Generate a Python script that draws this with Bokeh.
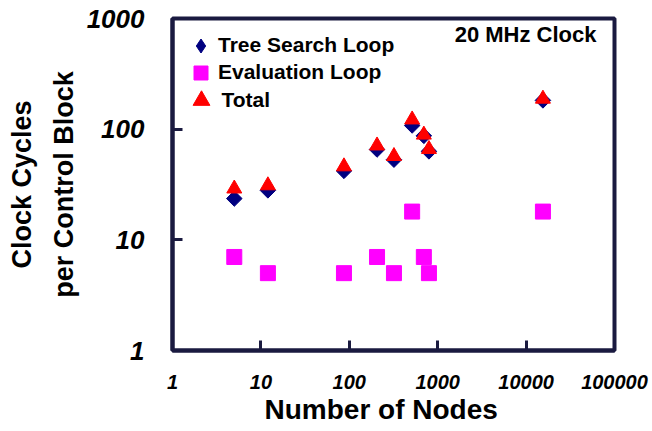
from bokeh.plotting import figure
from bokeh.models import (Legend, LegendItem, Title, Label, FixedTicker,
                          NumeralTickFormatter, ColumnDataSource)
from bokeh.embed import file_html
from bokeh.resources import INLINE
import math

# ---- data ----
nodes = [5, 12, 87, 206, 320, 514, 697, 796, 15500]
tree_search = [23.6, 28, 42, 65.5, 53, 108, 87, 63, 182]
evaluation = [7, 5, 5, 7, 5, 18, 7, 5, 18]
total = [29, 31, 46, 71, 57, 122, 89, 66, 188]

series_names = ["Tree Search Loop", "Evaluation Loop", "Total"]
x_ticks = [1, 10, 100, 1000, 10000, 100000]
y_ticks = [1, 10, 100, 1000]

FONT = "Liberation Sans"
INK = "#1a1a40"   # very dark ink for the frame and ticks

p = figure(width=652, height=431, x_axis_type="log", y_axis_type="log",
           x_range=(x_ticks[0], x_ticks[-1]), y_range=(y_ticks[0], y_ticks[-1]),
           output_backend="svg", toolbar_location=None,
           min_border_left=169, min_border_right=38,
           min_border_top=18, min_border_bottom=81)

p.xgrid.visible = False
p.ygrid.visible = False
p.outline_line_color = INK
p.outline_line_width = 4
p.outline_line_alpha = 1.0
p.background_fill_color = "white"
p.border_fill_color = "white"

src = ColumnDataSource(dict(x=nodes, tree=tree_search, ev=evaluation, tot=total))

r_eval = p.scatter("x", "ev", source=src, marker="square", size=15,
                   fill_color="#FF00FF", line_color="#FF00FF")
# diamond glyph (used for the legend key), covered by the rotated squares
r_tree_key = p.scatter("x", "tree", source=src, marker="diamond", size=13,
                       fill_color="#000080", line_color="#000080")
r_tree = p.scatter("x", "tree", source=src, marker="square", size=11,
                   angle=math.pi / 4, fill_color="#000080", line_color="#000080")
r_tot = p.scatter("x", "tot", source=src, marker="triangle", size=15,
                  fill_color="#FF0000", line_color="#FF0000")

for ax in (p.xaxis[0], p.yaxis[0]):
    ax.axis_line_color = INK
    ax.axis_line_width = 4
    ax.major_tick_line_color = INK
    ax.major_tick_line_width = 3
    ax.minor_tick_line_color = None
    ax.major_tick_in = 10
    ax.major_tick_out = 0
    ax.major_label_text_font = FONT
    ax.major_label_text_font_style = "bold italic"
    ax.major_label_text_color = "black"
    ax.formatter = NumeralTickFormatter(format="0")

p.xaxis[0].ticker = FixedTicker(ticks=x_ticks)
p.yaxis[0].ticker = FixedTicker(ticks=y_ticks)
p.xaxis[0].major_label_text_font_size = "20px"
p.yaxis[0].major_label_text_font_size = "26px"
p.xaxis[0].major_label_standoff = 24
p.yaxis[0].major_label_standoff = 28

t_x = Title(text="Number of Nodes", align="left", offset=92, standoff=0,
            text_font=FONT, text_font_size="28px", text_font_style="bold",
            text_color="black")
p.add_layout(t_x, "below")
t_y1 = Title(text="per Control Block", align="center", standoff=10,
             text_font=FONT, text_font_size="27px", text_font_style="bold",
             text_color="black")
p.add_layout(t_y1, "left")
t_y2 = Title(text="Clock Cycles", align="center", standoff=9,
             text_font=FONT, text_font_size="27px", text_font_style="bold",
             text_color="black")
p.add_layout(t_y2, "left")

# legends (one per item so each marker gets its own size)
def make_legend(label, r, D, cx, cy, text_x):
    left = cx - D / 2
    leg = Legend(items=[LegendItem(label=label, renderers=[r])],
                 location=(left, cy - D / 2),
                 glyph_width=D, glyph_height=D,
                 label_standoff=int(round(text_x - (left + D))),
                 padding=0, margin=0, spacing=0,
                 border_line_color=None, background_fill_alpha=0,
                 label_text_font=FONT, label_text_font_size="21px",
                 label_text_font_style="bold", label_text_color="black")
    p.add_layout(leg)

make_legend(series_names[0], r_tree_key, 35, 28.5, 305, 44)
make_legend(series_names[1], r_eval, 35, 28.5, 278, 44)
make_legend(series_names[2], r_tot, 42, 28.5, 250, 44)

note = Label(x=424, y=316, x_units="screen", y_units="screen",
             text="20 MHz Clock", text_align="right", text_baseline="middle",
             text_font=FONT, text_font_size="22px", text_font_style="bold",
             text_color="black")
p.add_layout(note)

open("out.html", "w").write(file_html(p, INLINE))
